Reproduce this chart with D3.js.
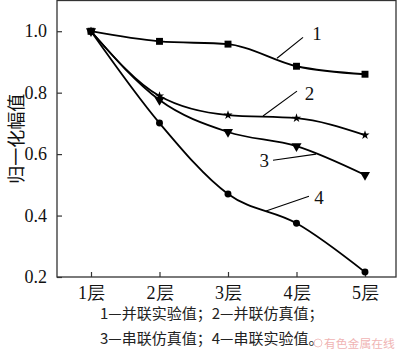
<!DOCTYPE html>
<html>
<head>
<meta charset="utf-8">
<script src="https://cdn.jsdelivr.net/npm/d3@7"></script>
<style>
  html, body { margin: 0; padding: 0; background: #fff; }
  svg { display: block; }
</style>
</head>
<body>
<svg id="chart" width="400" height="350"></svg>
<script>
// Layers along the x axis
const categories = ["1层", "2层", "3层", "4层", "5层"];
// Normalised amplitude for each curve
const parallelExp = [1.0, 0.967, 0.958, 0.886, 0.860];   // 1
const parallelSim = [1.0, 0.789, 0.727, 0.717, 0.662];   // 2
const seriesSim   = [1.0, 0.776, 0.672, 0.626, 0.532];   // 3
const seriesExp   = [1.0, 0.701, 0.470, 0.375, 0.216];   // 4
const yTicks = [0.2, 0.4, 0.6, 0.8, 1.0];
const curveNames = ["1", "2", "3", "4"];
const captionLines = ["1—并联实验值；2—并联仿真值；", "3—串联仿真值；4—串联实验值。"];
const yTitle = "归一化幅值";
const watermark = "有色金属在线";

const svg = d3.select("#chart");
const serif = "'Liberation Serif', 'DejaVu Serif', serif";
const cjk = "'Noto Sans CJK SC', sans-serif";

const left = 57, right = 396, bottom = 277;
const y = d3.scaleLinear().domain([0.2, 1.1]).range([bottom, 0.5]);
const x = d3.scalePoint().domain(categories).range([91, 365]);
// continuous position along the category axis (0 = first layer)
const xi = d3.scaleLinear().domain([0, categories.length - 1]).range([91, 365]);

// frame
svg.append("rect")
  .attr("x", left).attr("y", y(1.1))
  .attr("width", right - left).attr("height", bottom - y(1.1))
  .attr("fill", "none").attr("stroke", "#333").attr("stroke-width", 1.3);

// y axis: ticks point inward
const yAxis = d3.axisLeft(y).tickValues(yTicks).tickFormat(d3.format(".1f"))
  .tickSizeInner(-5).tickSizeOuter(0).tickPadding(10);
const gy = svg.append("g").attr("transform", `translate(${left},0)`).call(yAxis);
gy.select(".domain").remove();
gy.selectAll("line").attr("stroke", "#333").attr("stroke-width", 1.2);
gy.selectAll("text").attr("font-family", serif).attr("font-size", 18).attr("fill", "#111");

// x axis: ticks point inward
const xAxis = d3.axisBottom(x).tickSizeInner(-5).tickSizeOuter(0).tickPadding(9);
const gx = svg.append("g").attr("transform", `translate(0,${bottom})`).call(xAxis);
gx.select(".domain").remove();
gx.selectAll("line").attr("stroke", "#333").attr("stroke-width", 1.2);
gx.selectAll("text").attr("font-family", serif).attr("font-size", 18).attr("fill", "#111");

// y title
svg.append("text")
  .attr("transform", `translate(15,${y(0.65)}) rotate(-90)`)
  .attr("text-anchor", "middle").attr("dominant-baseline", "central")
  .attr("font-family", cjk).attr("font-size", 18).attr("fill", "#111")
  .text(yTitle);

// curves
const series = [
  { values: parallelExp, symbol: d3.symbolSquare, size: 48, rot: 0 },
  { values: parallelSim, symbol: d3.symbolStar, size: 26, rot: 0 },
  { values: seriesSim, symbol: d3.symbolTriangle, size: 44, rot: 180 },
  { values: seriesExp, symbol: d3.symbolCircle, size: 38, rot: 0 }
];
const line = d3.line()
  .x((d, i) => x(categories[i]))
  .y(d => y(d))
  .curve(d3.curveMonotoneX);

series.forEach(s => {
  svg.append("path").attr("d", line(s.values))
    .attr("fill", "none").attr("stroke", "#000").attr("stroke-width", 1.8);
  svg.append("g").selectAll("path").data(s.values).join("path")
    .attr("d", d3.symbol().type(s.symbol).size(s.size))
    .attr("transform", (d, i) => `translate(${x(categories[i])},${y(d)}) rotate(${s.rot})`)
    .attr("fill", "#000");
});

// curve labels with leader lines (x in layer index units, y in value units)
const leaders = [
  { from: [2.715, 0.912], to: [3.095, 0.980], at: [3.23, 0.993], anchor: "start" },
  { from: [2.511, 0.724], to: [3.007, 0.805], at: [3.12, 0.798], anchor: "start" },
  { from: [2.657, 0.580], to: [3.285, 0.600], at: [2.60, 0.578], anchor: "end" },
  { from: [2.555, 0.415], to: [3.182, 0.463], at: [3.26, 0.460], anchor: "start" }
];
leaders.forEach((l, i) => {
  svg.append("line")
    .attr("x1", xi(l.from[0])).attr("y1", y(l.from[1]))
    .attr("x2", xi(l.to[0])).attr("y2", y(l.to[1]))
    .attr("stroke", "#000").attr("stroke-width", 1.1);
  svg.append("text")
    .attr("x", xi(l.at[0])).attr("y", y(l.at[1]))
    .attr("text-anchor", l.anchor).attr("dominant-baseline", "central")
    .attr("font-family", serif).attr("font-size", 19).attr("fill", "#111")
    .text(curveNames[i]);
});

// caption
captionLines.forEach((t, i) => {
  svg.append("text")
    .attr("x", 100).attr("y", 312 + i * 25)
    .attr("dominant-baseline", "central")
    .attr("font-family", cjk).attr("font-size", 15).attr("fill", "#222")
    .text(t);
});

// watermark
svg.append("circle").attr("cx", 318).attr("cy", 343).attr("r", 4)
  .attr("fill", "none").attr("stroke", "#f2c4c4").attr("stroke-width", 1);
svg.append("text")
  .attr("x", 324).attr("y", 342).attr("dominant-baseline", "central")
  .attr("font-family", cjk).attr("font-size", 11.8).attr("fill", "#f0b4b4")
  .text(watermark);
</script>
</body>
</html>
